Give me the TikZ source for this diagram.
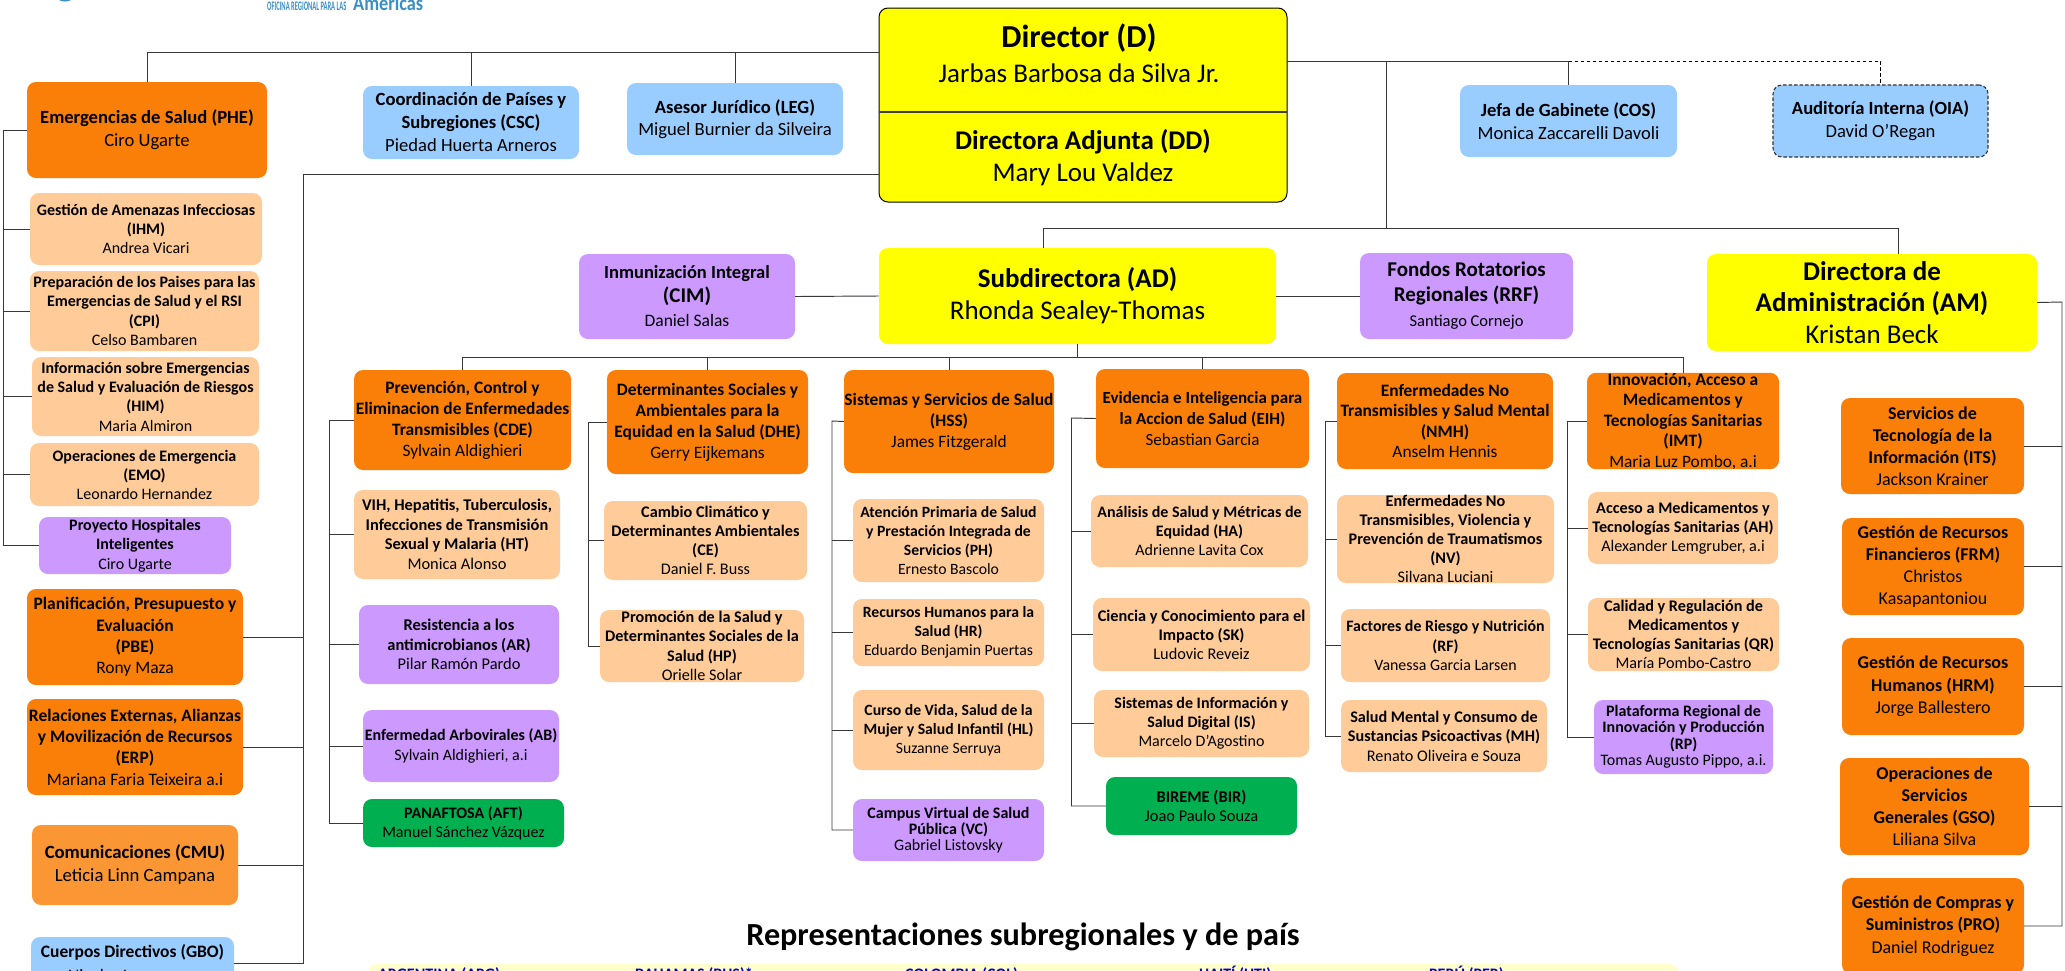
\documentclass[tikz,border=0pt]{standalone}
\usepackage{fontspec}
\setmainfont{Carlito}
\definecolor{cOr}{HTML}{FA7F08}
\definecolor{cOl}{HTML}{FB9634}
\definecolor{cPe}{HTML}{FFCC99}
\definecolor{cPu}{HTML}{CC99FF}
\definecolor{cBl}{HTML}{99CCFF}
\definecolor{cYe}{HTML}{FFFF00}
\definecolor{cGr}{HTML}{00B050}
\definecolor{cBand}{HTML}{FFFFCC}
\definecolor{cLogo}{HTML}{3B8EC6}
\definecolor{cLine}{HTML}{383838}
\tikzset{
  ob/.style={rectangle,rounded corners=9pt,inner sep=0pt,align=center,text=black},
  orange/.style={ob,fill=cOr},
  lorange/.style={ob,fill=cOl},
  peach/.style={ob,fill=cPe},
  purple/.style={ob,fill=cPu},
  sky/.style={ob,fill=cBl},
  yel/.style={ob,fill=cYe},
  grn/.style={ob,fill=cGr},
  link/.style={draw=cLine,line width=0.95pt},
  dlink/.style={draw=black,line width=0.85pt,dash pattern=on 3.5pt off 2.5pt},
  clab/.style={anchor=base west,inner sep=0pt,text=blue!80!black,font=\fontsize{16}{18}\selectfont\bfseries}
}
\newcommand\hd[1]{\textbf{#1}}
\newcommand\ob[9]{%
  \pgfmathsetmacro\cx{(#2+#4)/2}\pgfmathsetmacro\cy{(#3+#5)/2}%
  \pgfmathsetmacro\bw{#4-#2}\pgfmathsetmacro\bh{#5-#3}%
  \node[#6,minimum width=\bw pt,minimum height=\bh pt,font=\fontsize{#7}{#8}\selectfont] (#1) at (\cx,\cy) {#9};}
\begin{document}
\begin{tikzpicture}[x=1pt,y=-1pt]
\useasboundingbox (0,0) rectangle (2065,970);
\clip (0,0) rectangle (2065,970);
\fill[white] (0,0) rectangle (2065,970);
% logo fragment
\fill[cLogo] (65,-3) ellipse (8 and 4.5);
\node[anchor=base west,inner sep=0pt,text=cLogo,font=\fontsize{13}{14}\selectfont\bfseries] (logoA) at (267,10.5) {\scalebox{0.5}[1]{OFICINA REGIONAL PARA LAS}};
\node[anchor=base west,inner sep=0pt,text=cLogo,font=\fontsize{21}{22}\selectfont\bfseries] (logoB) at (353,10.5) {\scalebox{0.87}[1]{Américas}};
% top row
\ob{PHE}{27}{82}{267}{178}{orange}{18.6}{23}{\hd{Emergencias de Salud (PHE)}\\Ciro Ugarte}
\ob{CSC}{363}{86}{579}{159}{sky}{18.6}{23}{\hd{Coordinación de Países y}\\\hd{Subregiones (CSC)}\\Piedad Huerta Arneros}
\ob{LEG}{627}{83}{843}{155}{sky}{18.6}{22}{\hd{Asesor Jurídico (LEG)}\\Miguel Burnier da Silveira}
\ob{COS}{1460}{85}{1677}{157}{sky}{18.6}{23}{\hd{Jefa de Gabinete (COS)}\\Monica Zaccarelli Davoli}
\ob{OIA}{1773}{85}{1988}{157}{sky,draw=black!80,line width=1.1pt,dash pattern=on 3.5pt off 2pt}{18.6}{23}{\hd{Auditoría Interna (OIA)}\\David O’Regan}
% director
\ob{D}{879}{8}{1287}{202}{yel,draw=black,line width=1pt}{10}{10}{}
\node[inner sep=0pt,align=center,font=\fontsize{32}{35}\selectfont] (Dname) at (1079,53.5) {\hd{Director (D)}\\\fontsize{27}{35}\selectfont Jarbas Barbosa da Silva Jr.};
\node[inner sep=0pt,align=center,font=\fontsize{27}{32}\selectfont] (DDname) at (1083,158) {\hd{Directora Adjunta (DD)}\\Mary Lou Valdez};
\coordinate (divL) at (879,112); \coordinate (divR) at (1287,112);
\draw[draw=black!75,line width=1.1pt] (divL) -- (divR);
% left column
\ob{IHM}{30}{193}{262}{265}{peach}{16}{19}{\hd{Gestión de Amenazas Infecciosas}\\\hd{(IHM)}\\Andrea Vicari}
\ob{CPI}{30}{271}{259}{351}{peach}{16}{19.3}{\hd{Preparación de los Paises para las}\\\hd{Emergencias de Salud y el RSI}\\\hd{(CPI)}\\Celso Bambaren}
\ob{HIM}{32}{357}{259}{436}{peach}{16}{19.3}{\hd{Información sobre Emergencias}\\\hd{de Salud y Evaluación de Riesgos}\\\hd{(HIM)}\\Maria Almiron}
\ob{EMO}{30}{443}{259}{506}{peach}{16}{19}{\hd{Operaciones de Emergencia}\\\hd{(EMO)}\\Leonardo Hernandez}
\ob{PHI}{39}{517}{231}{574}{purple}{16}{19.5}{\hd{Proyecto Hospitales}\\\hd{Inteligentes}\\Ciro Ugarte}
\ob{PBE}{27}{589}{243}{685}{orange}{17.5}{21.3}{\hd{Planificación, Presupuesto y}\\\hd{Evaluación}\\\hd{(PBE)}\\Rony Maza}
\ob{ERP}{27}{699}{243}{795}{orange}{17.5}{21.3}{\hd{Relaciones Externas, Alianzas}\\\hd{y Movilización de Recursos}\\\hd{(ERP)}\\Mariana Faria Teixeira a.i}
\ob{CMU}{32}{825}{238}{905}{lorange}{18.7}{23}{\hd{Comunicaciones (CMU)}\\Leticia Linn Campana}
\ob{GBO}{31}{937}{234}{989}{sky}{17.5}{24}{\hd{Cuerpos Directivos (GBO)}\\Nicolas Lomonaco}
% second row
\ob{CIM}{579}{254}{795}{339}{purple}{21}{24}{\hd{\fontsize{18.5}{24}\selectfont Inmunización Integral}\\\hd{(CIM)}\\\fontsize{17.5}{24}\selectfont Daniel Salas}
\ob{AD}{879}{248}{1276}{344}{yel}{27}{32}{\hd{Subdirectora (AD)}\\Rhonda Sealey-Thomas}
\ob{RRF}{1360}{253}{1573}{339}{purple}{21}{25}{\hd{Fondos Rotatorios}\\\hd{Regionales (RRF)}\\\fontsize{16.5}{25}\selectfont Santiago Cornejo}
\ob{AM}{1707}{254}{2037}{351}{yel}{27}{31.5}{\hd{Directora de}\\\hd{Administración (AM)}\\Kristan Beck}
% third row
\ob{CDE}{354}{370}{571}{470}{orange}{17.4}{21}{\hd{Prevención, Control y}\\\hd{Eliminacion de Enfermedades}\\\hd{Transmisibles (CDE)}\\Sylvain Aldighieri}
\ob{DHE}{607}{370}{808}{474}{orange}{17.4}{21}{\hd{Determinantes Sociales y}\\\hd{Ambientales para la}\\\hd{Equidad en la Salud (DHE)}\\Gerry Eijkemans}
\ob{HSS}{844}{370}{1054}{473}{orange}{17.4}{21}{\hd{Sistemas y Servicios de Salud}\\\hd{(HSS)}\\James Fitzgerald}
\ob{EIH}{1096}{369}{1309}{468}{orange}{17}{21}{\hd{Evidencia e Inteligencia para}\\\hd{la Accion de Salud (EIH)}\\Sebastian Garcia}
\ob{NMH}{1337}{373}{1553}{469}{orange}{17.4}{20.5}{\hd{Enfermedades No}\\\hd{Transmisibles y Salud Mental}\\\hd{(NMH)}\\Anselm Hennis}
\ob{IMT}{1587}{373}{1779}{469}{orange}{17.4}{20.5}{\hd{Innovación, Acceso a}\\\hd{Medicamentos y}\\\hd{Tecnologías Sanitarias}\\\hd{(IMT)}\\Maria Luz Pombo, a.i}
% CDE column
\ob{HT}{354}{490}{560}{579}{peach}{16.4}{19.5}{\hd{VIH, Hepatitis, Tuberculosis,}\\\hd{Infecciones de Transmisión}\\\hd{Sexual y Malaria (HT)}\\Monica Alonso}
\ob{AR}{359}{605}{559}{684}{purple}{16.4}{19.5}{\hd{Resistencia a los}\\\hd{antimicrobianos (AR)}\\Pilar Ramón Pardo}
\ob{AB}{363}{710}{559}{782}{purple}{16}{20}{\hd{Enfermedad Arbovirales (AB)}\\Sylvain Aldighieri, a.i}
\ob{AFT}{363}{799}{564}{847}{grn}{16}{19}{\hd{PANAFTOSA (AFT)}\\Manuel Sánchez Vázquez}
% DHE column
\ob{CE}{604}{501}{807}{580}{peach}{16.2}{19}{\hd{Cambio Climático y}\\\hd{Determinantes Ambientales}\\\hd{(CE)}\\Daniel F. Buss}
\ob{HP}{600}{610}{804}{682}{peach}{16.2}{19.3}{\hd{Promoción de la Salud y}\\\hd{Determinantes Sociales de la}\\\hd{Salud (HP)}\\Orielle Solar}
% HSS column
\ob{PH}{853}{499}{1044}{582}{peach}{15.7}{19}{\hd{Atención Primaria de Salud}\\\hd{y Prestación Integrada de}\\\hd{Servicios (PH)}\\Ernesto Bascolo}
\ob{HR}{853}{599}{1044}{666}{peach}{15.7}{19}{\hd{Recursos Humanos para la}\\\hd{Salud (HR)}\\Eduardo Benjamin Puertas}
\ob{HL}{853}{690}{1044}{770}{peach}{15.7}{19}{\hd{Curso de Vida, Salud de la}\\\hd{Mujer y Salud Infantil (HL)}\\Suzanne Serruya}
\ob{VC}{853}{799}{1044}{861}{purple}{16}{16}{\hd{Campus Virtual de Salud}\\\hd{Pública (VC)}\\Gabriel Listovsky}
% EIH column
\ob{HA}{1091}{495}{1308}{567}{peach}{16}{19}{\hd{Análisis de Salud y Métricas de}\\\hd{Equidad (HA)}\\Adrienne Lavita Cox}
\ob{SK}{1093}{598}{1310}{671}{peach}{16.3}{19}{\hd{Ciencia y Conocimiento para el}\\\hd{Impacto (SK)}\\Ludovic Reveiz}
\ob{IS}{1094}{690}{1309}{757}{peach}{16}{19}{\hd{Sistemas de Información y}\\\hd{Salud Digital (IS)}\\Marcelo D’Agostino}
\ob{BIR}{1106}{777}{1297}{835}{grn}{16.4}{19}{\hd{BIREME (BIR)}\\Joao Paulo Souza}
% NMH column
\ob{NV}{1337}{495}{1554}{583}{peach}{16.2}{19}{\hd{Enfermedades No}\\\hd{Transmisibles, Violencia y}\\\hd{Prevención de Traumatismos}\\\hd{(NV)}\\Silvana Luciani}
\ob{RF}{1341}{609}{1550}{682}{peach}{15.9}{19.5}{\hd{Factores de Riesgo y Nutrición}\\\hd{(RF)}\\Vanessa Garcia Larsen}
\ob{MH}{1341}{700}{1547}{772}{peach}{16.2}{19.5}{\hd{Salud Mental y Consumo de}\\\hd{Sustancias Psicoactivas (MH)}\\Renato Oliveira e Souza}
% IMT column
\ob{AH}{1588}{492}{1778}{564}{peach}{16.2}{19}{\hd{Acceso a Medicamentos y}\\\hd{Tecnologías Sanitarias (AH)}\\Alexander Lemgruber, a.i}
\ob{QR}{1588}{598}{1779}{671}{peach}{16.2}{19}{\hd{Calidad y Regulación de}\\\hd{Medicamentos y}\\\hd{Tecnologías Sanitarias (QR)}\\María Pombo-Castro}
\ob{RP}{1594}{700}{1773}{774}{purple}{16}{16.5}{\hd{Plataforma Regional de}\\\hd{Innovación y Producción}\\\hd{(RP)}\\Tomas Augusto Pippo, a.i.}
% right column
\ob{ITS}{1841}{398}{2024}{494}{orange}{18}{22}{\hd{Servicios de}\\\hd{Tecnología de la}\\\hd{Información (ITS)}\\Jackson Krainer}
\ob{FRM}{1842}{518}{2024}{615}{orange}{18}{22}{\hd{Gestión de Recursos}\\\hd{Financieros (FRM)}\\Christos\\Kasapantoniou}
\ob{HRM}{1842}{638}{2024}{735}{orange}{18}{22.5}{\hd{Gestión de Recursos}\\\hd{Humanos (HRM)}\\Jorge Ballestero}
\ob{GSO}{1840}{758}{2029}{855}{orange}{18}{22}{\hd{Operaciones de}\\\hd{Servicios}\\\hd{Generales (GSO)}\\Liliana Silva}
\ob{PRO}{1842}{878}{2024}{974}{orange}{18}{22.5}{\hd{Gestión de Compras y}\\\hd{Suministros (PRO)}\\Daniel Rodriguez}
% title and band
\node[inner sep=0pt,font=\fontsize{32.2}{36}\selectfont\bfseries] (title) at (1023,937) {Representaciones subregionales y de país};
\ob{band}{368}{964}{1678}{1010}{ob,fill=cBand}{10}{10}{}
\node[clab] (cARG) at (378,979) {ARGENTINA (ARG)};
\node[clab] (cBHS) at (635,979) {BAHAMAS (BHS)*};
\node[clab] (cCOL) at (905,979) {COLOMBIA (COL)};
\node[clab] (cHTI) at (1199,979) {HAITÍ (HTI)};
\node[clab] (cPER) at (1429,979) {PERÚ (PER)};
% trunk coordinates
\coordinate (topA) at (879,52);
\coordinate (topB) at (879,174);
\coordinate (topC) at (1287,61);
\coordinate (busA) at (1386.4,228);
\coordinate (busB) at (1077,357);
\coordinate (tPHE) at (3.6,130);
\coordinate (tDD) at (303.6,174);
\coordinate (tCDE) at (329.5,420);
\coordinate (tDHE) at (588,422);
\coordinate (tHSS) at (832,421);
\coordinate (tEIH) at (1071.5,418);
\coordinate (tNMH) at (1325,421);
\coordinate (tIMT) at (1567,421);
\coordinate (tAM) at (2062,302);
\coordinate (adT) at (1043,248);
\coordinate (amT) at (1898.5,254);
\coordinate (lLEG) at (735,83);
% director links
\draw[link] (topA) -- (PHE.north |- topA) -- (PHE.north);
\draw[link] (CSC.north |- topA) -- (CSC.north);
\draw[link] (lLEG |- topA) -- (lLEG);
\draw[link] (topB) -- (tDD) -- (tDD |- GBO.east);
\draw[link] (tDD |- PBE.east) -- (PBE.east);
\draw[link] (tDD |- ERP.east) -- (ERP.east);
\draw[link] (tDD |- CMU.east) -- (CMU.east);
\draw[link] (tDD |- GBO.east) -- (GBO.east);
\draw[link] (topC) -- (COS.north |- topC) coordinate (cosT) -- (COS.north);
\draw[dlink] (cosT) -- (OIA.north |- cosT) coordinate (oiaT) -- (oiaT |- OIA.north);
\draw[link] (busA |- topC) -- (busA);
\draw[link] (adT) -- (adT |- busA) -- (amT |- busA) -- (amT);
\draw[link] (CIM.east) -- (AD.west);
\draw[link] (AD.east) -- (RRF.west);
% PHE column
\draw[link] (PHE.west) -- (tPHE) -- (tPHE |- PHI.west) -- (PHI.west);
\foreach \n in {IHM,CPI,HIM,EMO}{\draw[link] (tPHE |- \n.west) -- (\n.west);}
% AD bus
\draw[link] (AD.south -| busB) -- (busB);
\coordinate (bCDE) at (462,357); \coordinate (bIMT) at (1683,357);
\coordinate (bDHE) at (707,370);
\draw[link] (bCDE) -- (bIMT);
\draw[link] (bCDE) -- (bCDE |- CDE.north);
\draw[link] (bDHE |- bCDE) -- (bDHE);
\draw[link] (HSS.north |- bCDE) -- (HSS.north);
\draw[link] (EIH.north |- bCDE) -- (EIH.north);
\draw[link] (bIMT) -- (bIMT |- IMT.north);
% columns
\draw[link] (CDE.west) -- (tCDE) -- (tCDE |- AFT.west) -- (AFT.west);
\foreach \n in {HT,AR,AB}{\draw[link] (tCDE |- \n.west) -- (\n.west);}
\draw[link] (DHE.west) -- (tDHE) -- (tDHE |- HP.west) -- (HP.west);
\draw[link] (tDHE |- CE.west) -- (CE.west);
\draw[link] (HSS.west) -- (tHSS) -- (tHSS |- VC.west) -- (VC.west);
\foreach \n in {PH,HR,HL}{\draw[link] (tHSS |- \n.west) -- (\n.west);}
\draw[link] (EIH.west) -- (tEIH) -- (tEIH |- BIR.west) -- (BIR.west);
\foreach \n in {HA,SK,IS}{\draw[link] (tEIH |- \n.west) -- (\n.west);}
\draw[link] (NMH.west) -- (tNMH) -- (tNMH |- MH.west) -- (MH.west);
\foreach \n in {NV,RF}{\draw[link] (tNMH |- \n.west) -- (\n.west);}
\draw[link] (IMT.west) -- (tIMT) -- (tIMT |- RP.west) -- (RP.west);
\foreach \n in {AH,QR}{\draw[link] (tIMT |- \n.west) -- (\n.west);}
\draw[link] (AM.east) -- (tAM) -- (tAM |- PRO.east) -- (PRO.east);
\foreach \n in {ITS,FRM,HRM,GSO}{\draw[link] (tAM |- \n.east) -- (\n.east);}
\end{tikzpicture}
\end{document}
